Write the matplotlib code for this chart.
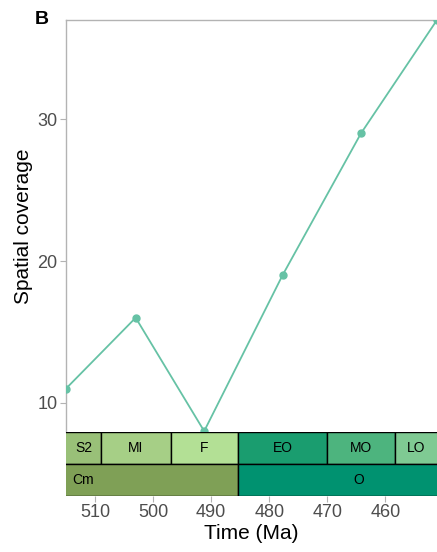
import matplotlib.pyplot as plt
from matplotlib.patches import Rectangle

plt.rcParams['font.family'] = ['Liberation Sans', 'DejaVu Sans']

# 各时期中点 (Ma) 与空间覆盖度
times = [515.0, 503.0, 491.2, 477.7, 464.2, 451.1]
coverage = [11, 16, 8, 19, 29, 37]

# 地质年代表：统/世 与 纪
series_names = ['S2', 'MI', 'F', 'EO', 'MO', 'LO']
series_start = [521.0, 509.0, 497.0, 485.4, 470.0, 458.4]
series_end = [509.0, 497.0, 485.4, 470.0, 458.4, 443.8]
series_colors = ['#99C078', '#A6CF86', '#B3E095', '#1A9D6F', '#4DB47E', '#7FCA93']

period_names = ['Cm', 'O']
period_start = [538.8, 485.4]
period_end = [485.4, 443.8]
period_colors = ['#7FA056', '#009270']

x_ticks = [510, 500, 490, 480, 470, 460]
y_ticks = [10, 20, 30]

xmin, xmax = 515.0, 451.1
line_color = '#66C2A5'
grey = '#B3B3B3'
tick_grey = '#4D4D4D'

fig = plt.figure(figsize=(4.37, 5.52), dpi=100)
left = 66 / 437
ax = fig.add_axes([left, 120 / 552, 1 - left, 412 / 552])
ts = fig.add_axes([left, 56 / 552, 1 - left, 64 / 552], sharex=ax)

# 折线图
ax.plot(times, coverage, color=line_color, lw=1.3, marker='o', ms=5, zorder=3)
ax.set_xlim(xmin, xmax)
ax.set_ylim(7.94, 37)
ax.set_yticks(y_ticks)
for s in ['bottom', 'right']:
    ax.spines[s].set_visible(False)
for s in ['top', 'left']:
    ax.spines[s].set_color(grey)
    ax.spines[s].set_linewidth(1.0)
ax.tick_params(axis='y', colors=grey, labelcolor=tick_grey, labelsize=13, length=4, width=0.8, pad=2)
ax.tick_params(axis='x', bottom=False, labelbottom=False)
ax.set_ylabel('Spatial coverage', fontsize=15, labelpad=3)

# 年代表色块
ts.set_ylim(0, 2)
for name, a, b, c in zip(series_names, series_start, series_end, series_colors):
    ts.add_patch(Rectangle((a, 1), b - a, 1, facecolor=c, edgecolor='black', lw=1.0))
    lo, hi = min(a, xmin), max(b, xmax)
    ts.text((lo + hi) / 2, 1.5, name, ha='center', va='center', fontsize=10)
for name, a, b, c in zip(period_names, period_start, period_end, period_colors):
    ts.add_patch(Rectangle((a, 0), b - a, 1, facecolor=c, edgecolor='black', lw=1.0))
    ts.text((a + b) / 2, 0.5, name, ha='center', va='center', fontsize=10)
ts.set_yticks([])
for s in ts.spines.values():
    s.set_visible(False)
ts.set_xticks(x_ticks)
ts.tick_params(axis='x', colors=grey, labelcolor=tick_grey, labelsize=13, length=4, width=0.8, pad=2)
ts.set_xlabel('Time (Ma)', fontsize=15, labelpad=2)

fig.text(35 / 437, 1 - 20 / 552, 'B', fontsize=14, fontweight='bold', va='center')

plt.savefig('out.png', dpi=100)
